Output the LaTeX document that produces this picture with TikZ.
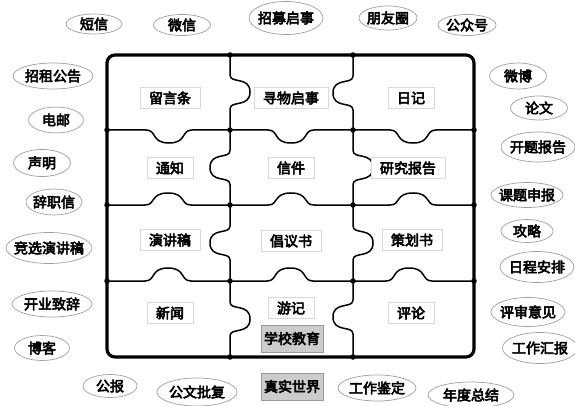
\documentclass[tikz,border=0pt]{standalone}
\usepackage{fontspec}
\newfontfamily\cjk{Noto Sans CJK SC}
\usetikzlibrary{shapes.geometric}
\newcommand{\bdon}{\special{pdf:literal direct 2 Tr 0.55 w}}
\newcommand{\bdoff}{\special{pdf:literal direct 0 Tr}}
\tikzset{
  cjktext/.style={font=\cjk\fontsize{14}{16}\selectfont, execute at begin node=\bdon, execute at end node=\bdoff},
  oval/.style args={#1/#2}{ellipse, draw=gray!75, line width=0.7pt, fill=white, inner sep=0pt,
     minimum width=#1pt, minimum height=#2pt, cjktext},
  lbl/.style={draw=gray!30, line width=0.6pt, fill=white, inner xsep=9pt, inner ysep=0pt,
     minimum height=21pt, cjktext},
  gbox/.style={draw=gray!80, line width=0.8pt, fill=gray!40, inner xsep=3pt, inner ysep=0pt,
     minimum width=62pt, minimum height=27pt, cjktext},
  frame/.style={line width=3.2pt, rounded corners=8pt},
  inner/.style={line width=1.5pt},
  jdot/.style={circle, fill=black, inner sep=0pt, minimum size=5.5pt},
  hk/.style args={#1/#2/#3}{insert path={-- ({#1-23},#2) .. controls ({#1-12},#2) and ({#1-18},{#2+(#3)}) .. (#1,{#2+(#3)}) .. controls ({#1+18},{#2+(#3)}) and ({#1+12},#2) .. ({#1+23},#2)}},
  vk/.style args={#1/#2/#3}{insert path={-- (#1,{#2-17}) .. controls (#1,{#2-8}) and ({#1+(#3)},{#2-16}) .. ({#1+(#3)},#2) .. controls ({#1+(#3)},{#2+16}) and (#1,{#2+8}) .. (#1,{#2+17})}}
}
\newcommand{\tb}[1]{\makebox[0pt]{#1}}
\begin{document}
\begin{tikzpicture}[x=1pt,y=-1pt]
\useasboundingbox (0,0) rectangle (575,406);
% puzzle frame
\draw[frame] (107,55) rectangle (474,357);
\draw[inner] (230,55) [vk=230/92/20] [vk=230/167.5/-20] [vk=230/243/-20] [vk=230/319/20] -- (230,357);
\draw[inner] (353,55) [vk=353/93/-20] [vk=353/167.5/20] [vk=353/243/20] [vk=353/317/-20] -- (353,357);
\draw[inner] (107,130) [hk=169/130/13] [hk=291/130/13] [hk=413/130/13] -- (474,130);
\draw[inner] (107,205) [hk=168/205/-12] [hk=291/205/-12] [hk=413/205/-12] -- (474,205);
\draw[inner] (107,281) [hk=168/281/-13] [hk=290/281/-13] [hk=409/281/-13] -- (474,281);
% junction dots
\foreach \p [count=\i] in {(230,55),(353,55),(230,357),(353,357),
  (107,130),(230,130),(353,130),(474,130),
  (107,205),(230,205),(353,205),(474,205),
  (107,281),(230,281),(353,281),(474,281)}
  \node[jdot] (j\i) at \p {};
% cell labels
\node[lbl] (c11) at (170,98) {留言条};
\node[lbl] (c12) at (291,98) {寻物启事};
\node[lbl] (c13) at (411,98) {日记};
\node[lbl] (c21) at (170,168) {通知};
\node[lbl] (c22) at (291,168) {信件};
\node[lbl] (c23) at (408,168) {研究报告};
\node[lbl] (c31) at (170,240) {演讲稿};
\node[lbl] (c32) at (291,241) {倡议书};
\node[lbl] (c33) at (412,240) {策划书};
\node[lbl] (c41) at (170,313) {新闻};
\node[lbl] (c42) at (291,308) {游记};
\node[lbl] (c43) at (411,313) {评论};
\node[gbox] (school) at (292,338.5) {学校教育};
\node[gbox] (real) at (292,386.5) {真实世界};
% surrounding ovals
\node[oval=56/20] (o1) at (94,24) {\tb{短信}};
\node[oval=57/21] (o2) at (182,25) {\tb{微信}};
\node[oval=74/33] (o3) at (286,18) {\tb{招募启事}};
\node[oval=58/24] (o4) at (388,18) {\tb{朋友圈}};
\node[oval=58/21] (o5) at (467,25) {\tb{公众号}};
\node[oval=80/26] (o6) at (53,76) {\tb{招租公告}};
\node[oval=55/26] (o7) at (56,120) {\tb{电邮}};
\node[oval=57/26] (o8) at (518,76) {\tb{微博}};
\node[oval=57/24] (o9) at (539,108) {\tb{论文}};
\node[oval=57/27] (o10) at (42,163) {\tb{声明}};
\node[oval=56/26] (o11) at (54,202) {\tb{辞职信}};
\node[oval=86/31] (o12) at (49,248) {\tb{竞选演讲稿}};
\node[oval=74/30] (o13) at (538,147) {\tb{开题报告}};
\node[oval=72/25] (o14) at (527,195) {\tb{课题申报}};
\node[oval=52/23] (o15) at (527,231) {\tb{攻略}};
\node[oval=74/31] (o16) at (537,267) {\tb{日程安排}};
\node[oval=74/29] (o17) at (528,312) {\tb{评审意见}};
\node[oval=75/31] (o18) at (540,348) {\tb{工作汇报}};
\node[oval=78/26] (o19) at (377,388) {\tb{工作鉴定}};
\node[oval=86/26] (o20) at (471,395) {\tb{年度总结}};
\node[oval=80/26] (o21) at (52,304) {\tb{开业致辞}};
\node[oval=55/25] (o22) at (42,348) {\tb{博客}};
\node[oval=54/23] (o23) at (110,386) {\tb{公报}};
\node[oval=80/28] (o24) at (197,392) {\tb{公文批复}};
\end{tikzpicture}
\end{document}
